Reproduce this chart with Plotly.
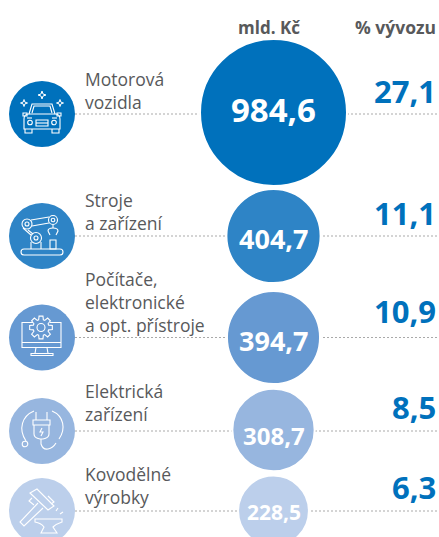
import math
import plotly.graph_objects as go

# ---- data ----
labels = ["Motorová<br>vozidla", "Stroje<br>a zařízení", "Počítače,<br>elektronické<br>a opt. přístroje",
          "Elektrická<br>zařízení", "Kovodělné<br>výrobky"]
values_bn = [984.6, 404.7, 394.7, 308.7, 228.5]
shares = [27.1, 11.1, 10.9, 8.5, 6.3]
header_value = "mld. Kč"
header_share = "% vývozu"

# ---- layout / style ----
W, H = 439, 537
row_y = [114, 236, 337.5, 431, 511]
bubble_y = [112.5, 236, 337.5, 430, 511]
label_y = [90, 211, 302, 402, 485]
share_y = [91, 213, 311, 407, 487]
value_y = [109, 238, 340, 435, 512]
value_size = [33, 27, 27, 24, 21]
colors = ["#0071bc", "#2e84c6", "#6699d2", "#97b6df", "#bccfeb"]
TEXT = "#58595b"
BLUE = "#0071bc"
FONT = "Open Sans"
ICON_X, BUB_X = 42, 273.5
czech = lambda v: f"{v:.1f}".replace(".", ",")

fig = go.Figure()
# area-proportional bubbles
fig.add_trace(go.Scatter(x=[BUB_X] * 5, y=bubble_y, mode="markers", hoverinfo="skip",
                         marker=dict(size=values_bn, sizemode="area", sizeref=2 * 984.6 / 147 ** 2, opacity=1,
                                     color=colors, line=dict(color="white", width=2))))
# icon discs
fig.add_trace(go.Scatter(x=[ICON_X] * 5, y=row_y, mode="markers", hoverinfo="skip",
                         marker=dict(size=66, color=colors, opacity=1, line=dict(width=0))))

shapes = []
for y in row_y:
    shapes.append(dict(type="line", xref="x", yref="y", x0=75, x1=W, y0=y, y1=y, layer="below",
                       line=dict(color="#a9a9a9", width=1, dash="2px,2px")))


def rel(path, cx, cy):
    out, i = [], 0
    for t in path.split():
        if t.isalpha():
            out.append(t); i = 0
        else:
            out.append(str(float(t) + (cx if i % 2 == 0 else cy))); i += 1
    return " ".join(out)


def stroke(path, cx, cy, w=1.1):
    shapes.append(dict(type="path", xref="x", yref="y", path=rel(path, cx, cy),
                       line=dict(color="white", width=w), fillcolor="rgba(0,0,0,0)"))


def circle(x, y, r, cx, cy, w=1.1):
    shapes.append(dict(type="circle", xref="x", yref="y", x0=cx + x - r, x1=cx + x + r,
                       y0=cy + y - r, y1=cy + y + r, line=dict(color="white", width=w)))


def sparkle(x, y, r, cx, cy):
    s = r * 0.25
    stroke(f"M {x} {y-r} L {x+s} {y-s} L {x+r} {y} L {x+s} {y+s} L {x} {y+r} L {x-s} {y+s} L {x-r} {y} L {x-s} {y-s} Z", cx, cy, 1)


# car
cy = row_y[0]
for a in [(0, -19, 4), (-18, -11, 3.5), (18, -11, 3.5)]:
    sparkle(a[0], a[1], a[2], ICON_X, cy)
for p in ["M -13 0 L -10 -10 L 10 -10 L 13 0",
          "M -10 -1 L -8 -8 L 8 -8 L 10 -1",
          "M -18 5 Q -18 0 -13 0 L 13 0 Q 18 0 18 5 L 18 15 L -18 15 Z",
          "M -17 15 L -17 19 L -10 19 L -10 15", "M 10 15 L 10 19 L 17 19 L 17 15",
          "M -6 6 L 6 6 L 6 12 L -6 12 Z", "M -6 9 L 6 9",
          "M -19 -1 L -15 -1 L -15 2 L -19 2 Z", "M 15 -1 L 19 -1 L 19 2 L 15 2 Z",
          "M -15 4 L -10 4", "M 10 4 L 15 4"]:
    stroke(p, ICON_X, cy)
circle(-12, 8.5, 2.3, ICON_X, cy); circle(12, 8.5, 2.3, ICON_X, cy)

# robot
cy = row_y[1]
circle(-15, -12, 5, ICON_X, cy); circle(-15, -12, 2, ICON_X, cy)
circle(11, -16, 4.5, ICON_X, cy); circle(11, -16, 1.8, ICON_X, cy)
circle(-6, 2, 5.5, ICON_X, cy); circle(-6, 2, 2, ICON_X, cy)
for p in ["M -11 -16 L 7 -19", "M -10 -10 L 7 -13",
          "M -19 -8 L -11 -1", "M -14 -6 L -9 -2",
          "M -11 6 L -11 13", "M -1 6 L -1 13",
          "M 11 -11 L 11 -8", "M 6 -5 Q 6 -8 11 -8 Q 16 -8 16 -5 L 14 -1", "M 6 -5 L 8 -1",
          "M 8 4 L 14 4 L 14 13 L 8 13 Z",
          "M -18 13 L 18 13 Q 21 13 21 16 Q 21 19 18 19 L -18 19 Q -21 19 -21 16 Q -21 13 -18 13 Z"]:
    stroke(p, ICON_X, cy)

# monitor with gear
cy = row_y[2]
for p in ["M -9 -15 L -20 -15 L -20 10 L 19 10 L 19 -15 L 8 -15",
          "M -20 5 L 19 5", "M -6 10 L -7 16 L 6 16 L 5 10", "M -11 18 L 11 18 L 11 16 L -11 16 Z"]:
    stroke(p, ICON_X, cy)
gear = []
gx, gy, n = -1, -10, 8
for k in range(n):
    for da, r in [(-0.30, 8), (-0.17, 11.5), (0.17, 11.5), (0.30, 8)]:
        t = 2 * math.pi * k / n + da
        gear.append((gx + r * math.cos(t), gy + r * math.sin(t)))
stroke("M " + " L ".join(f"{a:.2f} {b:.2f}" for a, b in gear) + " Z", ICON_X, cy)
circle(gx, gy, 4, ICON_X, cy)

# plug
cy = row_y[3]
for p in ["M -6 -19 L -6 -11", "M 5 -19 L 5 -11",
          "M -9 -11 L 8 -11 L 8 -6 L -9 -6 Z",
          "M -8 -6 L -8 3 Q -8 7 -2 8 L 1 8 Q 7 7 7 3 L 7 -6",
          "M 0 -3 L -2 1 L 1 1 L -1 5",
          "M -1 8 L -1 13 Q 1 19 6 18 Q 11 17 14 12",
          "M -16 10 C -24 -2 -20 -15 -8 -20",
          "M 10 -20 C 22 -15 24 -2 17 8"]:
    stroke(p, ICON_X, cy)
circle(-17, 13, 2.8, ICON_X, cy)

# hammer and anvil
cy = row_y[4]
for p in ["M -12 -18 L -5 -22 L 12 -5 L 6 -1 Z", "M -10 -13 L -13 -10 L -8 -6", "M 9 -7 L 12 -9 L 6 -15",
          "M -4 -8 L -22 11 L -18 15 L 1 -3",
          "M -7 8 L 20 8 L 20 11 Q 14 13 11 16 L 15 22 L -1 22 L 2 16 Q -1 12 -7 11 Z",
          "M 14 0 L 16 -3", "M 18 3 L 21 1"]:
    stroke(p, ICON_X, cy)

annotations = []


def note(text, x, y, size, color, bold=False, anchor="center"):
    annotations.append(dict(xref="x", yref="y", x=x, y=y, text=f"<b>{text}</b>" if bold else text,
                            showarrow=False, xanchor=anchor, yanchor="middle", align="left",
                            font=dict(family=FONT, size=size, color=color), borderpad=0, borderwidth=0))


note(header_value, 269, 27, 17, TEXT, True)
note(header_share, 395, 27, 17.5, TEXT, True)
for i in range(5):
    note(labels[i], 85, label_y[i], 17.5, TEXT, anchor="left")
    note(czech(values_bn[i]), BUB_X, value_y[i], value_size[i], "white", True)
    note(czech(shares[i]), 436, share_y[i], 31, BLUE, True, anchor="right")

fig.update_layout(width=W, height=H, margin=dict(l=0, r=0, t=0, b=0), showlegend=False,
                  paper_bgcolor="white", plot_bgcolor="white", shapes=shapes, annotations=annotations,
                  xaxis=dict(range=[0, W], visible=False, fixedrange=True),
                  yaxis=dict(range=[H, 0], visible=False, fixedrange=True))
fig.write_html("out.html", config=dict(displayModeBar=False),
               post_script="document.body.style.margin='0';document.body.style.overflow='hidden';")
